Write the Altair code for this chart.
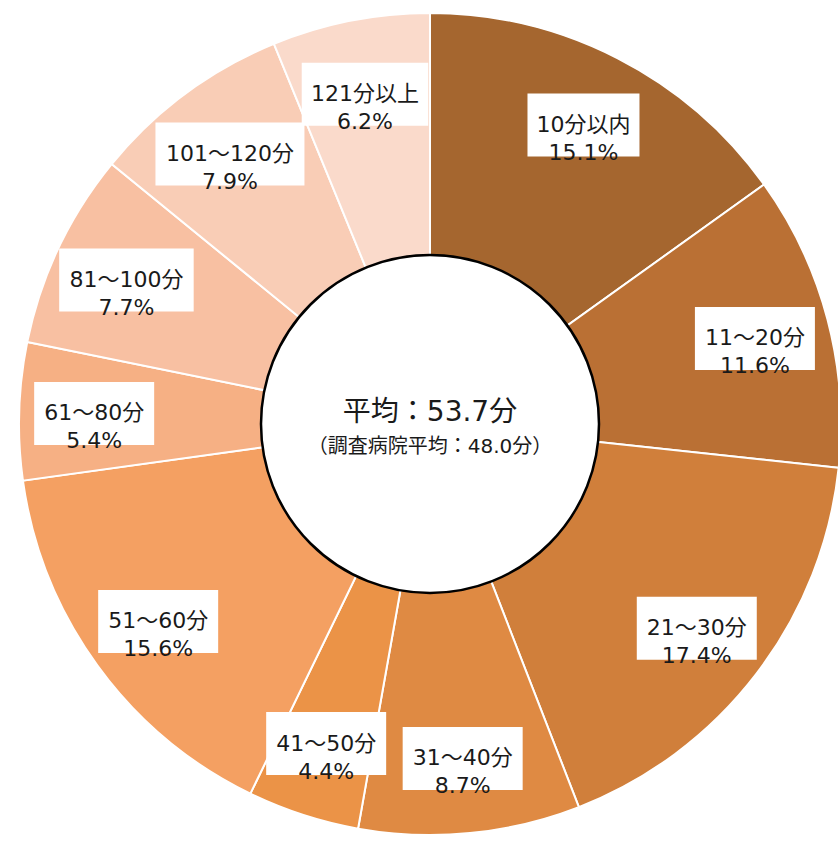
import altair as alt
import pandas as pd

categories = ["10分以内", "11～20分", "21～30分", "31～40分", "41～50分",
              "51～60分", "61～80分", "81～100分", "101～120分", "121分以上"]
shares = [15.1, 11.6, 17.4, 8.7, 4.4, 15.6, 5.4, 7.7, 7.9, 6.2]
colors = ["#A5662F", "#BA7034", "#D07F3B", "#DF8A43", "#EB9347",
          "#F4A062", "#F6B084", "#F8C0A2", "#F9CDB6", "#FADACB"]
mean_label = "平均：53.7分"
hospital_label = "（調査病院平均：48.0分）"

FONT = "DejaVu Sans, Noto Sans CJK JP"

df = pd.DataFrame({"cat": categories, "value": shares, "idx": list(range(len(categories)))})
center_df = pd.DataFrame({"x": [0], "y": [0], "t1": [mean_label], "t2": [hospital_label]})

xs = alt.Scale(domain=[-430, 408], nice=False, zero=False)
ys = alt.Scale(domain=[-419, 424], nice=False, zero=False)

base = alt.Chart(df)

arcs = base.mark_arc(outerRadius=411, stroke="white", strokeWidth=2).encode(
    theta=alt.Theta("value:Q", stack=True),
    order=alt.Order("idx:Q"),
    color=alt.Color("cat:N", scale=alt.Scale(domain=categories, range=colors), legend=None),
    x=alt.value(430),
    y=alt.value(424),
)

lab = base.transform_joinaggregate(
    total="sum(value)"
).transform_window(
    cum="sum(value)", sort=[alt.SortField("idx")], frame=[None, 0]
).transform_calculate(
    ang="(datum.cum - datum.value/2)/datum.total*2*PI",
    lx="336*sin(datum.ang)",
    ly="336*cos(datum.ang)",
    nd="length(replace(datum.cat, regexp('[^0-9]', 'g'), ''))",
    w="20 + 14.5*datum.nd + 21*(length(datum.cat) - datum.nd)",
    bx1="datum.lx - datum.w/2",
    bx2="datum.lx + datum.w/2",
    by1="datum.ly - 31.5",
    by2="datum.ly + 31.5",
    txt="datum.cat + '\\n' + format(datum.value, '.1f') + '%'",
)

boxes = lab.mark_rect(fill="white").encode(
    x=alt.X("bx1:Q", scale=xs, axis=None),
    x2="bx2:Q",
    y=alt.Y("by1:Q", scale=ys, axis=None),
    y2="by2:Q",
)

texts = lab.mark_text(font=FONT, fontSize=22, lineBreak="\n", lineHeight=28,
                      color="#1a1a1a", baseline="middle", align="center").encode(
    x=alt.X("lx:Q", scale=xs, axis=None),
    y=alt.Y("ly:Q", scale=ys, axis=None),
    text="txt:N",
)

cbase = alt.Chart(center_df)
circle = cbase.mark_point(shape="circle", size=338 * 338, filled=True, fill="white",
                          stroke="black", strokeWidth=2.5, opacity=1).encode(
    x=alt.X("x:Q", scale=xs, axis=None),
    y=alt.Y("y:Q", scale=ys, axis=None),
)
ctext1 = cbase.mark_text(font=FONT, fontSize=28, color="#1a1a1a", dy=-11, baseline="middle").encode(
    x=alt.X("x:Q", scale=xs, axis=None),
    y=alt.Y("y:Q", scale=ys, axis=None),
    text="t1:N",
)
ctext2 = cbase.mark_text(font=FONT, fontSize=20, color="#1a1a1a", dy=23, baseline="middle").encode(
    x=alt.X("x:Q", scale=xs, axis=None),
    y=alt.Y("y:Q", scale=ys, axis=None),
    text="t2:N",
)

chart = alt.layer(arcs, circle, boxes, texts, ctext1, ctext2).properties(
    width=838, height=843, padding=0, autosize="none", background="white"
).configure_view(stroke=None)

chart.save("out.html", embed_options={"renderer": "svg", "actions": False})
